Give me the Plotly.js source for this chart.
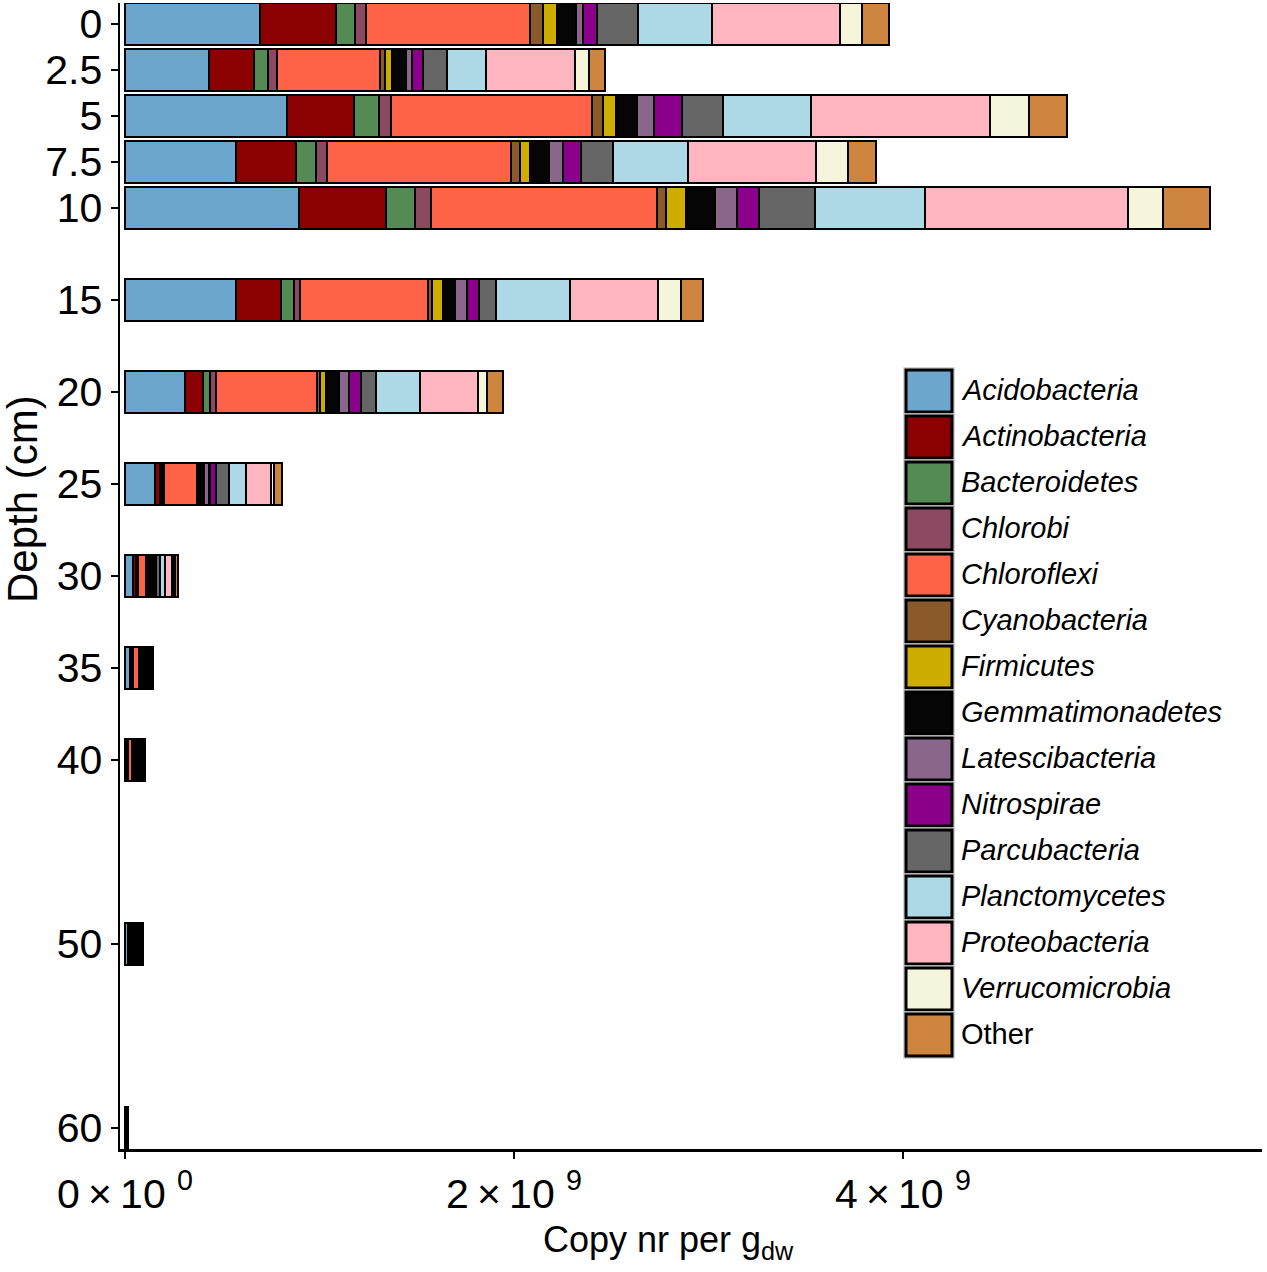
<!DOCTYPE html>
<html>
<head>
<meta charset="utf-8">
<script src="https://cdn.plot.ly/plotly-3.0.1.min.js"></script>
<style>
  body { margin: 0; background: #fff; }
</style>
</head>
<body>
<div id="chart" style="width:1267px;height:1272px"></div>
<script>
// sampling depths (cm)
var depths = [0, 2.5, 5, 7.5, 10, 15, 20, 25, 30, 35, 40, 50, 60];

// copy nr per g dw, in units of 1e8, one array per phylum
var acidobacteria    = [6.94, 4.32, 8.33, 5.71, 8.95, 5.71, 3.08, 1.56, 0.41, 0.26, 0.05, 0.16, 0.02];
var actinobacteria   = [3.91, 2.31, 3.44, 3.08, 4.47, 2.31, 0.93, 0.24, 0.15, 0.08, 0.08, 0.06, 0.01];
var bacteroidetes    = [0.98, 0.72, 1.29, 1.03, 1.49, 0.67, 0.36, 0.12, 0.05, 0.03, 0.02, 0.02, 0.005];
var chlorobi         = [0.57, 0.46, 0.62, 0.57, 0.82, 0.31, 0.31, 0.09, 0.05, 0.03, 0.02, 0.02, 0.005];
var chloroflexi      = [8.43, 5.30, 10.33, 9.46, 11.62, 6.58, 5.19, 1.68, 0.44, 0.31, 0.20, 0.12, 0.03];
var cyanobacteria    = [0.67, 0.26, 0.57, 0.46, 0.46, 0.21, 0.15, 0.12, 0.08, 0.03, 0.02, 0.02, 0.005];
var firmicutes       = [0.72, 0.36, 0.67, 0.51, 1.03, 0.57, 0.31, 0.10, 0.10, 0.05, 0.02, 0.02, 0.005];
var gemmatimonadetes = [0.98, 0.72, 1.08, 0.98, 1.49, 0.62, 0.67, 0.14, 0.15, 0.18, 0.12, 0.10, 0.01];
var latescibacteria  = [0.36, 0.31, 0.87, 0.72, 1.13, 0.62, 0.51, 0.29, 0.08, 0.05, 0.05, 0.05, 0.005];
var nitrospirae      = [0.72, 0.57, 1.44, 0.93, 1.13, 0.62, 0.62, 0.34, 0.10, 0.05, 0.05, 0.05, 0.005];
var parcubacteria    = [2.11, 1.23, 2.11, 1.65, 2.88, 0.87, 0.77, 0.67, 0.18, 0.10, 0.08, 0.07, 0.01];
var planctomycetes   = [3.80, 2.01, 4.52, 3.86, 5.66, 3.80, 2.26, 0.89, 0.26, 0.08, 0.08, 0.07, 0.01];
var proteobacteria   = [6.58, 4.58, 9.20, 6.58, 10.44, 4.52, 2.98, 1.25, 0.36, 0.10, 0.10, 0.10, 0.02];
var verrucomicrobia  = [1.13, 0.72, 2.01, 1.65, 1.80, 1.18, 0.46, 0.19, 0.13, 0.03, 0.03, 0.03, 0.005];
var other            = [1.39, 0.82, 1.95, 1.44, 2.42, 1.13, 0.82, 0.38, 0.18, 0.08, 0.10, 0.05, 0.01];

var phyla = ['Acidobacteria', 'Actinobacteria', 'Bacteroidetes', 'Chlorobi', 'Chloroflexi',
  'Cyanobacteria', 'Firmicutes', 'Gemmatimonadetes', 'Latescibacteria', 'Nitrospirae',
  'Parcubacteria', 'Planctomycetes', 'Proteobacteria', 'Verrucomicrobia', 'Other'];
var series = [acidobacteria, actinobacteria, bacteroidetes, chlorobi, chloroflexi,
  cyanobacteria, firmicutes, gemmatimonadetes, latescibacteria, nitrospirae,
  parcubacteria, planctomycetes, proteobacteria, verrucomicrobia, other];
var colors = ['#6CA6CD', '#8B0000', '#548B54', '#8B4A62', '#FF6347',
  '#8B5A2B', '#CDAD00', '#050505', '#8B668B', '#8B008B',
  '#666666', '#ADD8E6', '#FFB6C1', '#F5F5DC', '#CD853F'];

var depthTicks = [0, 2.5, 5, 7.5, 10, 15, 20, 25, 30, 35, 40, 50, 60];
var xTicks = [0, 2e9, 4e9];
var xTickText = ['0\u2009×\u200910\u00a0<sup>0</sup>', '2\u2009×\u200910\u00a0<sup>9</sup>', '4\u2009×\u200910\u00a0<sup>9</sup>'];

var SCALE = 1e8;
var FONT = 'Liberation Sans, Arial, Helvetica, sans-serif';

var data = series.map(function (vals, i) {
  return {
    type: 'bar',
    orientation: 'h',
    name: phyla[i],
    y: depths,
    x: vals.map(function (v) { return v * SCALE; }),
    width: 2.25,
    marker: { color: colors[i], line: { color: '#000', width: 2.2 } },
    showlegend: false
  };
});

// plot area in pixels
var L = 120, R = 1262, T = 3, B = 1149;
function px(p) { return (p - L) / (R - L); }
function py(p) { return (B - p) / (B - T); }

// hand made legend with big keys, like the original
var shapes = [];
var annotations = [];
phyla.forEach(function (name, i) {
  var top = 368 + 46 * i;
  shapes.push({
    type: 'rect', xref: 'paper', yref: 'paper',
    x0: px(904), x1: px(954), y0: py(top), y1: py(top + 46),
    fillcolor: 'white', line: { color: '#c8c8c8', width: 1.5 }
  });
  shapes.push({
    type: 'rect', xref: 'paper', yref: 'paper',
    x0: px(906), x1: px(952), y0: py(top + 2), y1: py(top + 44),
    fillcolor: colors[i], line: { color: '#000', width: 3 }
  });
  annotations.push({
    xref: 'paper', yref: 'paper', x: px(959), y: py(top + 22),
    xanchor: 'left', yanchor: 'middle', showarrow: false,
    text: name === 'Other' ? name : '<i>' + name + '</i>',
    font: { family: FONT, size: 29, color: '#000' }
  });
});

annotations.push({
  xref: 'paper', yref: 'paper', x: px(22), y: py(499),
  xanchor: 'center', yanchor: 'middle', showarrow: false, textangle: -90,
  text: 'Depth (cm)', font: { family: FONT, size: 42, color: '#000' }
});
annotations.push({
  xref: 'paper', yref: 'paper', x: px(668), y: py(1242),
  xanchor: 'center', yanchor: 'middle', showarrow: false,
  text: 'Copy nr per g<sub>dw</sub>', font: { family: FONT, size: 36, color: '#000' }
});

var layout = {
  width: 1267,
  height: 1272,
  margin: { l: L, r: 1267 - R, t: T, b: 1272 - B },
  paper_bgcolor: 'white',
  plot_bgcolor: 'white',
  barmode: 'stack',
  font: { family: FONT, color: '#000' },
  xaxis: {
    range: [-0.0257e9, 5.846e9],
    tickvals: xTicks,
    ticktext: xTickText,
    tickfont: { family: FONT, size: 41, color: '#000' },
    showline: true, linecolor: '#000', linewidth: 2.5,
    ticks: 'outside', ticklen: 7, tickwidth: 2, tickcolor: '#000',
    showgrid: false, zeroline: false
  },
  yaxis: {
    range: [61.14, -1.14],
    autorange: false,
    tickvals: depthTicks,
    ticktext: depthTicks.map(String),
    tickfont: { family: FONT, size: 41, color: '#000' },
    showline: true, linecolor: '#000', linewidth: 2.5,
    ticks: 'outside', ticklen: 7, tickwidth: 2, tickcolor: '#000',
    showgrid: false, zeroline: false
  },
  shapes: shapes,
  annotations: annotations
};

Plotly.newPlot('chart', data, layout, { displayModeBar: false, staticPlot: true });
</script>
</body>
</html>
